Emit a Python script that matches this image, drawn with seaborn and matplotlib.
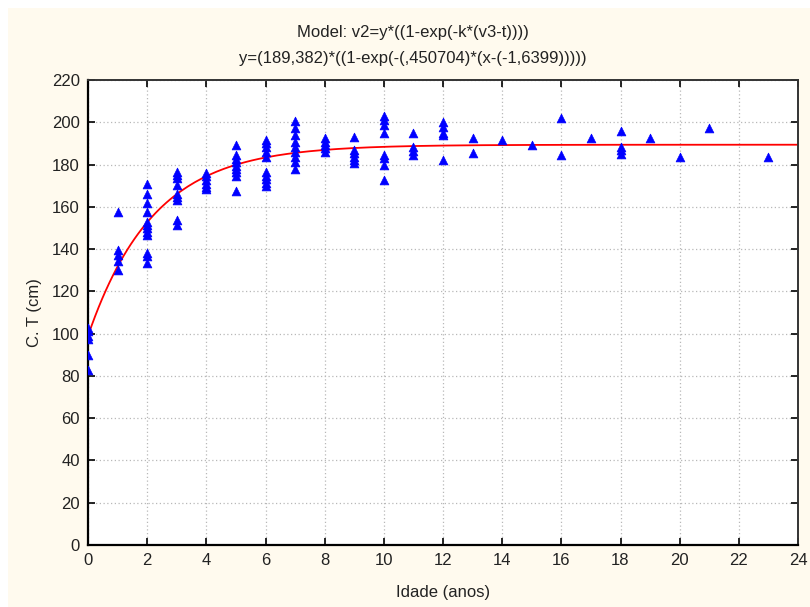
import numpy as np
import pandas as pd
import matplotlib
matplotlib.use("Agg")
import matplotlib.pyplot as plt
from matplotlib.patches import Rectangle
import seaborn as sns

# ---- data ----
age_0 = [102.9, 101.3, 98.9, 97.3, 90.0, 82.7]
age_1 = [157.5, 139.5, 137.3, 134.5, 130.0]
age_2 = [170.7, 166.3, 161.6, 157.7, 153.0, 151.4, 149.8, 148.3, 146.6, 138.1, 136.5, 133.4]
age_3 = [176.5, 175.0, 173.4, 170.2, 166.3, 164.7, 163.1, 153.7, 151.3]
age_4 = [176.0, 174.5, 172.9, 171.0, 169.4, 168.2]
age_5 = [189.2, 184.4, 182.7, 181.1, 179.5, 177.9, 176.3, 174.7, 167.4]
age_6 = [191.6, 190.0, 188.4, 186.0, 183.5, 176.3, 174.7, 173.1, 171.5, 169.8]
age_7 = [200.5, 197.3, 194.0, 190.8, 188.4, 186.0, 183.5, 181.1, 177.9]
age_8 = [192.4, 190.8, 189.2, 187.6, 186.0]
age_9 = [193.0, 186.9, 185.3, 183.7, 182.1, 180.5]
age_10 = [202.9, 201.3, 198.9, 194.9, 184.5, 182.9, 179.7, 172.8]
age_11 = [194.9, 188.5, 186.6, 184.5]
age_12 = [200.0, 198.0, 194.9, 194.0, 182.2]
age_13 = [192.5, 185.3]
age_14 = [191.7]
age_15 = [189.3]
age_16 = [202.0, 184.5]
age_17 = [192.5]
age_18 = [195.7, 188.5, 186.9, 184.8]
age_19 = [192.5]
age_20 = [183.7]
age_21 = [197.3]
age_23 = [183.7]

groups = {0: age_0, 1: age_1, 2: age_2, 3: age_3, 4: age_4, 5: age_5, 6: age_6,
          7: age_7, 8: age_8, 9: age_9, 10: age_10, 11: age_11, 12: age_12,
          13: age_13, 14: age_14, 15: age_15, 16: age_16, 17: age_17,
          18: age_18, 19: age_19, 20: age_20, 21: age_21, 23: age_23}

# von Bertalanffy model parameters shown in the title
L_inf = 189.382
k_par = 0.450704
t0 = -1.6399

x_ticks = list(range(0, 25, 2))
y_ticks = list(range(0, 221, 20))

title_1 = "Model: v2=y*((1-exp(-k*(v3-t))))"
title_2 = "y=(189,382)*((1-exp(-(,450704)*(x-(-1,6399)))))"

rows = [(a, v) for a, vals in groups.items() for v in vals]
df = pd.DataFrame(rows, columns=["idade", "ct"])

xc = np.linspace(0, 24, 200)
curve = pd.DataFrame({"idade": xc, "ct": L_inf * (1 - np.exp(-k_par * (xc - t0)))})

# ---- drawing ----
sns.set_theme(style="white")
plt.rcParams["font.family"] = ["Liberation Sans", "DejaVu Sans"]

cream = "#FFFAEE"
txt = "#222222"
fig = plt.figure(figsize=(8.1, 6.07), dpi=100, facecolor="white")
fig.patches.append(Rectangle((8 / 810, 0), 1, 1 - 8 / 607, transform=fig.transFigure,
                             facecolor=cream, edgecolor="none", zorder=-10))
ax = fig.add_axes([88 / 810, (607 - 545) / 607, (798 - 88) / 810, (545 - 80) / 607])
ax.set_facecolor("white")

sns.lineplot(data=curve, x="idade", y="ct", ax=ax, color="#FF0000", linewidth=1.3, zorder=2)
sns.scatterplot(data=df, x="idade", y="ct", ax=ax, marker="^", color="#0000FF",
                s=40, edgecolor="#0000FF", linewidth=0.5, zorder=3, clip_on=True)

ax.set_xlim(0, 24)
ax.set_ylim(0, 220)
ax.set_xticks(x_ticks)
ax.set_yticks(y_ticks)
ax.grid(True, color="#B8B8B8", linestyle=(0, (1, 2)), linewidth=0.9)
ax.tick_params(direction="in", length=5, width=1.2, colors="black", labelsize=12,
               left=True, bottom=True, right=True, top=True, pad=6)
ax.tick_params(axis="both", labelcolor=txt)
for side in ["left", "bottom"]:
    ax.spines[side].set_color("black")
    ax.spines[side].set_linewidth(1.6)
for side in ["right", "top"]:
    ax.spines[side].set_color("#333333")
    ax.spines[side].set_linewidth(1.4)

ax.set_xlabel("Idade (anos)", fontsize=12, labelpad=12, color=txt)
ax.set_ylabel("C. T (cm)", fontsize=12, labelpad=7, color=txt)

fig.text(413 / 810, 1 - 32 / 607, title_1, ha="center", va="center", fontsize=12, color=txt)
fig.text(413 / 810, 1 - 58 / 607, title_2, ha="center", va="center", fontsize=12, color=txt)

fig.savefig("out.png", dpi=100, facecolor=fig.get_facecolor())
